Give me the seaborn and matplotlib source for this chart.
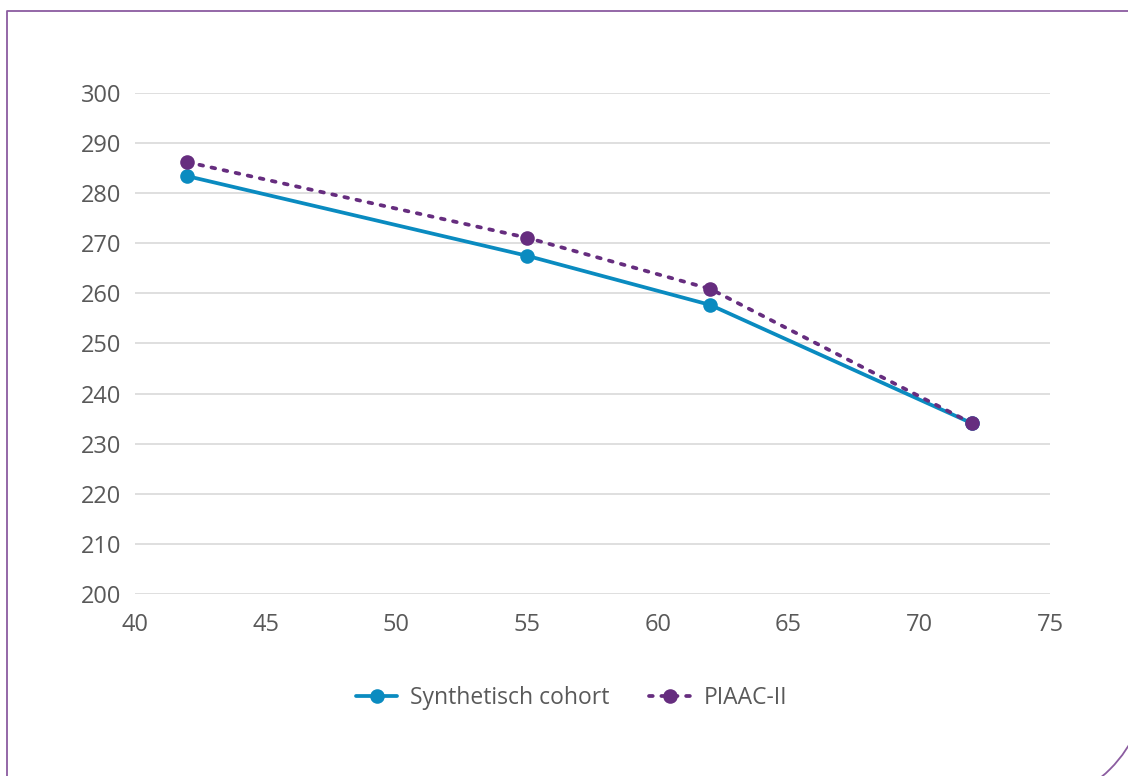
import matplotlib
matplotlib.use("Agg")
import matplotlib.pyplot as plt
import seaborn as sns
import pandas as pd
from matplotlib.patches import Arc

# data
leeftijd = [42, 55, 62, 72]
synthetisch = [283.4, 267.5, 257.7, 234.1]
piaac = [286.2, 271.1, 260.9, 234.1]
reeksen = ["Synthetisch cohort", "PIAAC-II"]
kleuren = ["#0A8BC0", "#662D7F"]

df = pd.DataFrame({
    "leeftijd": leeftijd * 2,
    "score": synthetisch + piaac,
    "reeks": [reeksen[0]] * 4 + [reeksen[1]] * 4,
})

sns.set_theme(style="white")
plt.rcParams["font.family"] = ["Open Sans", "DejaVu Sans"]

fig = plt.figure(figsize=(11.28, 7.76), dpi=100)

# purple frame (only bottom-right corner rounded, partly outside the image)
bg = fig.add_axes([0, 0, 1, 1], zorder=-1)
bg.set_xlim(0, 1128)
bg.set_ylim(776, 0)
bg.axis("off")
kader = "#8B5CA0"
bg.plot([6.5, 6.5, 1147], [776, 10.5, 10.5], color=kader, lw=1.3, solid_capstyle="butt")
bg.plot([1147, 1147], [10.5, 680], color=kader, lw=1.3)
bg.add_patch(Arc((1021, 680), 252, 252, theta1=0, theta2=90, color=kader, lw=1.3))

ax = fig.add_axes([0.1197, 0.2345, 0.8112, 0.6457])

sns.lineplot(data=df, x="leeftijd", y="score", hue="reeks", style="reeks",
             palette=kleuren, dashes={reeksen[0]: "", reeksen[1]: (1.0, 2.3)},
             markers={reeksen[0]: "o", reeksen[1]: "o"}, markersize=10.5,
             markeredgewidth=0, linewidth=2.7, ax=ax)

for ln in ax.get_lines():
    ln.set_dash_capstyle("round")

ax.set_xlim(40, 75)
ax.set_ylim(200, 300)
ax.set_xticks(range(40, 76, 5))
ax.set_yticks(range(200, 301, 10))
ax.yaxis.grid(True, color="#D9D9D9", linewidth=1.2)
ax.xaxis.grid(False)
for s in ax.spines.values():
    s.set_visible(False)
ax.tick_params(axis="both", length=0, labelsize=17, labelcolor="#595959")
ax.tick_params(axis="x", pad=14)
ax.tick_params(axis="y", pad=10)
ax.set_xlabel("")
ax.set_ylabel("")

handles, labels = ax.get_legend_handles_labels()
for h in handles:
    h.set_dash_capstyle("round")
ax.legend(handles, labels, loc="center", bbox_to_anchor=(0.477, -0.207), ncol=2,
          frameon=False, fontsize=16.5, labelcolor="#595959", handlelength=1.8,
          columnspacing=1.75, handletextpad=0.55)

fig.savefig("out.png", dpi=100)
